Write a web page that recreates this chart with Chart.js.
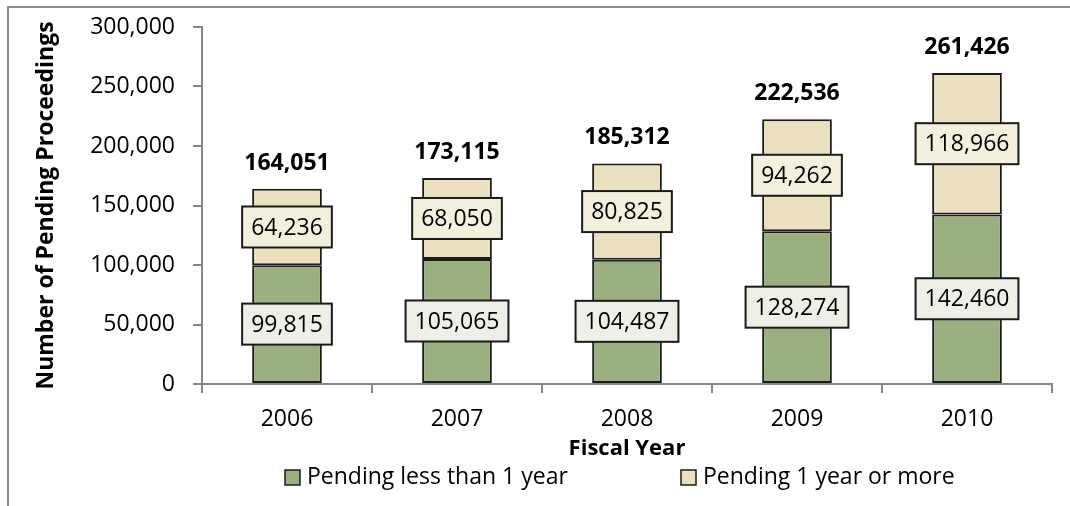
<!DOCTYPE html>
<html>
<head>
<meta charset="utf-8">
<script src="https://cdn.jsdelivr.net/npm/chart.js@4.4.1/dist/chart.umd.min.js"></script>
<style>
  html, body { margin: 0; padding: 0; background: #fff; }
  #wrap { position: relative; width: 1070px; height: 506px; }
  #frame {
    position: absolute; left: 7px; top: 6px; right: -4px; bottom: -4px;
    border-left: 2px solid #8c8c8c; border-top: 2px solid #8c8c8c;
  }
  canvas { position: absolute; left: 0; top: 0; }
</style>
</head>
<body>
<div id="wrap">
  <div id="frame"></div>
  <canvas id="pendingChart" width="1070" height="506"></canvas>
</div>
<script>
  const years = ["2006", "2007", "2008", "2009", "2010"];
  const lessThanYear = [99815, 105065, 104487, 128274, 142460];
  const yearOrMore = [64236, 68050, 80825, 94262, 118966];
  const yTicks = [0, 50000, 100000, 150000, 200000, 250000, 300000];

  const totals = years.map((_, i) => lessThanYear[i] + yearOrMore[i]);

  const FONT = "'Open Sans', 'Liberation Sans', sans-serif";
  const AXIS_GRAY = "#868686";
  const fmt = (v) => v.toLocaleString("en-US");

  Chart.defaults.font.family = FONT;
  Chart.defaults.font.size = 23;
  Chart.defaults.color = "#000";

  // boxed labels on each segment, bold totals above, and the legend row
  const labelPlugin = {
    id: "segmentLabels",
    afterDatasetsDraw(chart) {
      const ctx = chart.ctx;
      ctx.save();
      ctx.textAlign = "center";
      ctx.textBaseline = "middle";

      chart.data.datasets.forEach((ds, di) => {
        const meta = chart.getDatasetMeta(di);
        meta.data.forEach((bar, i) => {
          const text = fmt(ds.data[i]);
          const cy = (bar.y + bar.base) / 2;
          ctx.font = `23px ${FONT}`;
          const w = ctx.measureText(text).width + 18;
          const h = 41;
          ctx.fillStyle = ds.labelFill;
          ctx.fillRect(bar.x - w / 2, cy - h / 2, w, h);
          ctx.lineWidth = 2;
          ctx.strokeStyle = "#1a1a1a";
          ctx.strokeRect(bar.x - w / 2, cy - h / 2, w, h);
          ctx.fillStyle = "#000";
          ctx.fillText(text, bar.x, cy + 1);
        });
      });

      const top = chart.getDatasetMeta(chart.data.datasets.length - 1);
      ctx.font = `bold 23px ${FONT}`;
      ctx.textBaseline = "alphabetic";
      top.data.forEach((bar, i) => {
        ctx.fillText(fmt(totals[i]), bar.x, bar.y - 19);
      });
      ctx.restore();
    },
    afterDraw(chart) {
      const ctx = chart.ctx;
      const items = [
        { x: 285, ds: chart.data.datasets[0] },
        { x: 681, ds: chart.data.datasets[1] },
      ];
      ctx.save();
      ctx.font = `23px ${FONT}`;
      ctx.textBaseline = "middle";
      ctx.textAlign = "left";
      items.forEach((it) => {
        ctx.fillStyle = it.ds.backgroundColor;
        ctx.fillRect(it.x, 470, 15, 15);
        ctx.lineWidth = 1.5;
        ctx.strokeStyle = "#1a1a1a";
        ctx.strokeRect(it.x, 470, 15, 15);
        ctx.fillStyle = "#000";
        ctx.fillText(it.ds.label, it.x + 22, 477);
      });
      ctx.restore();
    },
  };

  new Chart(document.getElementById("pendingChart"), {
    type: "bar",
    data: {
      labels: years,
      datasets: [
        {
          label: "Pending less than 1 year",
          data: lessThanYear,
          backgroundColor: "#9bb080",
          borderColor: "#1a1a1a",
          borderWidth: 2,
          borderSkipped: false,
          labelFill: "#eef0e8",
        },
        {
          label: "Pending 1 year or more",
          data: yearOrMore,
          backgroundColor: "#ebe1c0",
          borderColor: "#1a1a1a",
          borderWidth: 2,
          borderSkipped: false,
          labelFill: "#f4f0de",
        },
      ],
    },
    options: {
      responsive: false,
      animation: false,
      layout: { padding: { left: 8, top: 27, right: 18, bottom: 44 } },
      plugins: {
        legend: { display: false },
        tooltip: { enabled: false },
      },
      datasets: {
        bar: { categoryPercentage: 1.0, barPercentage: 0.41 },
      },
      scales: {
        x: {
          stacked: true,
          afterFit: (scale) => { scale.height = 78; },
          grid: {
            offset: true,
            drawOnChartArea: false,
            tickLength: 9,
            color: AXIS_GRAY,
            lineWidth: 2,
          },
          border: { color: AXIS_GRAY, width: 2 },
          ticks: { padding: 13 },
          title: {
            display: true,
            text: "Fiscal Year",
            font: { size: 22, weight: "bold" },
            padding: { top: 0, bottom: 0 },
          },
        },
        y: {
          stacked: true,
          min: 0,
          max: 300000,
          afterFit: (scale) => {
            scale.width = 194;
            // let the layout padding alone decide the plot's top edge
            scale.paddingTop = 0;
            scale.paddingBottom = 0;
          },
          afterBuildTicks: (scale) => {
            scale.ticks = yTicks.map((v) => ({ value: v }));
          },
          grid: {
            drawOnChartArea: false,
            tickLength: 9,
            color: AXIS_GRAY,
            lineWidth: 2,
          },
          border: { color: AXIS_GRAY, width: 2 },
          ticks: {
            padding: 18,
            callback: (v) => fmt(v),
          },
          title: {
            display: true,
            text: "Number of Pending Proceedings",
            font: { size: 23, weight: "bold" },
            padding: { top: 25, bottom: 0 },
          },
        },
      },
    },
    plugins: [labelPlugin],
  });
</script>
</body>
</html>
